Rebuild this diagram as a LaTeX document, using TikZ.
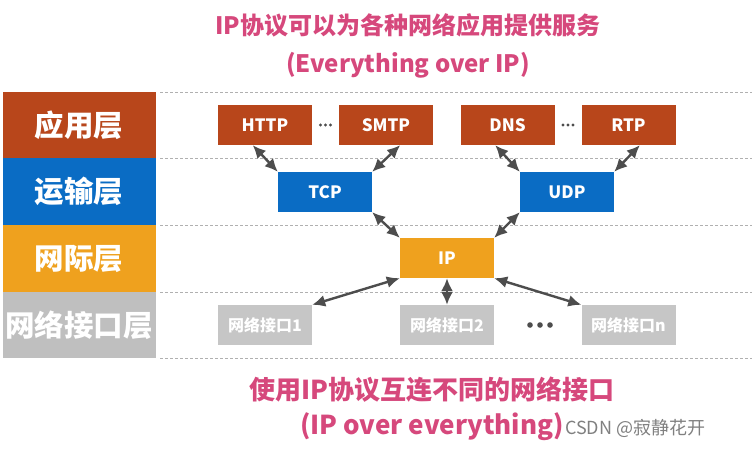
\documentclass[tikz,border=0pt]{standalone}
\usepackage{fontspec}
\setmainfont{Noto Sans CJK SC}
\usetikzlibrary{arrows.meta,calc}
\definecolor{appc}{HTML}{B8461B}
\definecolor{trc}{HTML}{0A6CC4}
\definecolor{ipc}{HTML}{EFA11E}
\definecolor{nic}{HTML}{BFBFBF}
\definecolor{nibox}{HTML}{C6C6C6}
\definecolor{pinkc}{HTML}{D6487C}
\definecolor{arrc}{HTML}{4D4D4D}
\definecolor{dashc}{HTML}{B0B0B0}
\begin{document}
\begin{tikzpicture}[x=1pt,y=-1pt,
  layerbox/.style={rectangle,minimum width=153pt,minimum height=66.5pt,inner sep=0pt,text=white,font=\bfseries\fontsize{29.5}{29.5}\selectfont},
  protobox/.style={rectangle,minimum width=94pt,minimum height=40pt,inner sep=0pt,text=white,font=\bfseries\fontsize{17}{17}\selectfont},
  nibox/.style={protobox,fill=nibox,font=\bfseries\fontsize{16}{16}\selectfont},
  title/.style={text=pinkc,font=\bfseries\fontsize{24}{24}\selectfont,inner sep=0pt},
  btitle/.style={title,font=\bfseries\fontsize{26}{26}\selectfont},
  sep/.style={dashc,line width=0.9pt,dash pattern=on 3pt off 2pt},
  link/.style={arrc,line width=2.4pt,{Latex[length=13pt,width=12pt]}-{Latex[length=13pt,width=12pt]}},
  dotsn/.style={inner sep=0pt,minimum size=0pt},
  dotfill/.style={fill=arrc}
]
\useasboundingbox (0,0) rectangle (754,448);
\fill[white] (0,0) rectangle (754,448);

% titles
\node[title] (t1) at (408,25) {IP协议可以为各种网络应用提供服务};
\node[title] (t2) at (408,65) {(Everything over IP)};
\node[btitle] (b1) at (432,390) {使用IP协议互连不同的网络接口};
\node[btitle] (b2) at (432,427) {(IP over everything)};
\node[anchor=west,inner sep=0pt,text=gray,font=\fontsize{18}{18}\selectfont] (wm) at (565,428) {CSDN @寂静花开};

% layer boxes
\node[layerbox,fill=appc] (l1) at (79,125) {应用层};
\node[layerbox,fill=trc] (l2) at (79,191.5) {运输层};
\node[layerbox,fill=ipc] (l3) at (79,258.5) {网际层};
\node[layerbox,fill=nic] (l4) at (79,325) {网络接口层};

% separators
\foreach \yy in {92,158,225,292,358} \draw[sep] (160,\yy) -- (752,\yy);

% protocol boxes
\node[protobox,fill=appc] (http) at (265,125) {HTTP};
\node[protobox,fill=appc] (smtp) at (386,125) {SMTP};
\node[protobox,fill=appc] (dns) at (507.5,125) {DNS};
\node[protobox,fill=appc] (rtp) at (628.5,125) {RTP};
\node[protobox,fill=trc] (tcp) at (325,192) {TCP};
\node[protobox,fill=trc] (udp) at (567,192) {UDP};
\node[protobox,fill=ipc] (ip) at (447,258) {IP};
\node[nibox] (n1) at (265,325) {网络接口1};
\node[nibox] (n2) at (447,325) {网络接口2};
\node[nibox] (nn) at (628.5,325) {网络接口n};

% dots
\foreach \cx in {325.5,568} \foreach \dx in {-5,0,5} \fill[dotfill] (\cx+\dx,125) circle (1.6pt);
\foreach \dx in {-10,0,10} \fill[dotfill] (540+\dx,325) circle (2.8pt);

% arrows
\draw[link] ($(http.south west)!0.37!(http.south east)$) -- (tcp.north west);
\draw[link] ($(smtp.south west)!0.65!(smtp.south east)$) -- (tcp.north east);
\draw[link] ($(dns.south west)!0.37!(dns.south east)$) -- (udp.north west);
\draw[link] ($(rtp.south west)!0.62!(rtp.south east)$) -- (udp.north east);
\draw[link] (tcp.south east) -- (ip.north west);
\draw[link] (udp.south west) -- (ip.north east);
\draw[link] (ip.south west) -- (n1.north east);
\draw[link] (ip.south) -- (n2.north);
\draw[link] (ip.south east) -- (nn.north west);
\end{tikzpicture}
\end{document}
